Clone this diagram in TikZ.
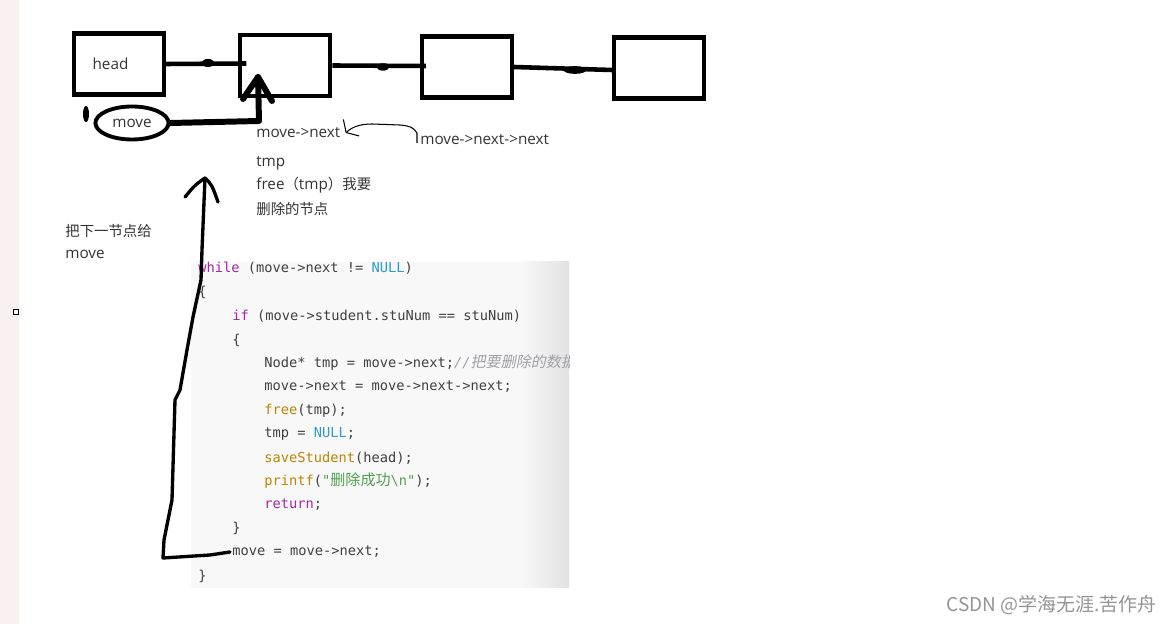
\documentclass[tikz,border=0pt]{standalone}
\usepackage{fontspec}
\setmainfont{Open Sans}[Scale=1.06]
\setmonofont{DejaVu Sans Mono}
\newfontfamily\cjk{Noto Sans CJK SC}
\newfontfamily\cjkcode{Noto Sans CJK SC}[Scale=1.1]
\newfontfamily\cjkslant{Noto Sans CJK SC}[Scale=1.1,FakeSlant=0.2]
\usetikzlibrary{positioning, shapes.geometric, arrows.meta}

\definecolor{sidebar}{HTML}{F8F1EF}
\definecolor{codebg}{HTML}{F8F8F8}
\definecolor{codeedge}{HTML}{E2E2E2}
\definecolor{codetext}{HTML}{404040}
\definecolor{kwpurple}{HTML}{A626A4}
\definecolor{nullblue}{HTML}{2E9AD2}
\definecolor{fnorange}{HTML}{C18401}
\definecolor{strgreen}{HTML}{50A14F}
\definecolor{cmtgray}{HTML}{A0A1A7}
\definecolor{notegray}{HTML}{333333}

\newcommand{\kwd}[1]{\textcolor{kwpurple}{#1}}
\newcommand{\nul}[1]{\textcolor{nullblue}{#1}}
\newcommand{\fnc}[1]{\textcolor{fnorange}{#1}}
\newcommand{\strg}[1]{\textcolor{strgreen}{#1}}
\newcommand{\cmt}[1]{\textcolor{cmtgray}{\itshape #1}}

\begin{document}
\begin{tikzpicture}[x=0.02cm,y=-0.02cm,on grid,
    listbox/.style={draw,line width=2.3pt,minimum width=1.8cm,minimum height=1.22cm},
    link/.style={line width=2.6pt},
    moveline/.style={line width=3.4pt,line join=round,line cap=round},
    handline/.style={line width=1.9pt,line join=round,line cap=round},
    thinarrow/.style={line width=0.6pt,-{Straight Barb[length=4pt,width=13pt]}},
    note/.style={anchor=west,inner sep=0pt,text=notegray,font=\fontsize{8.2}{10}\selectfont},
    code/.style={anchor=west,inner sep=0pt,text=codetext,font=\ttfamily\fontsize{7.8}{9}\selectfont}]
  \useasboundingbox (0,0) rectangle (1171,624);
  \fill[sidebar] (0,0) rectangle (19,624);
  \node[draw,fill=white,line width=0.9pt,minimum size=0.1cm,inner sep=0pt] (pin) at (16,312) {};

  % the list
  \node[listbox,label={[xshift=-0.17cm,font=\fontsize{8.2}{10}\selectfont,text=notegray]center:head}] (head) at (119,64) {};
  \node[listbox] (n1) [right=3.33cm of head,yshift=-0.03cm] {};
  \node[listbox] (n2) [right=3.63cm of n1,yshift=-0.03cm] {};
  \node[listbox] (n3) [right=3.84cm of n2,yshift=-0.02cm] {};
  \draw[link] (head.east) -- ([xshift=0.16cm,yshift=0.04cm]n1.west);
  \draw[link] (n1.east) -- ([xshift=0.12cm,yshift=0.02cm]n2.west);
  \draw[link] (n2.east) -- ([yshift=-0.04cm]n3.west);
  \fill (208,63) ellipse [x radius=3.6pt,y radius=2.3pt];
  \fill (383,67) ellipse [x radius=3.6pt,y radius=2.1pt];
  \fill (575,70) ellipse [x radius=6.5pt,y radius=2.2pt];

  % the move pointer
  \node[ellipse,draw,line width=2.2pt,minimum width=1.26cm,minimum height=0.66cm,
        font=\fontsize{8.2}{10}\selectfont,text=notegray] (move) at (132,123) {move};
  \fill (86,114) ellipse [x radius=1.7pt,y radius=4.6pt];
  \coordinate (mv-bend) at (259,121);
  \coordinate (mv-tip) at (258,77);
  \draw[moveline] (move.east) -- (mv-bend) -- (mv-tip);
  \draw[moveline] (243,99) -- (mv-tip) -- (272,101);

  % notes
  \node[note] (mnext) at (256,133) {move->next};
  \node[note] (nnext) at (420,140) {move->next->next};
  \node[note] (tmp) at (256,163) {tmp};
  \node[note] (freenote) at (256,185) {free{\cjk （}tmp{\cjk ）我要}};
  \node[note] (delnote) at (256,209) {\cjk 删除的节点};
  \node[note] (give) at (65,231) {\cjk 把下一节点给};
  \node[note] (givemove) at (65,254) {move};
  \draw[thinarrow] ([xshift=-0.06cm,yshift=-0.06cm]nnext.west) -- (417,133)
    .. controls (413,127) and (410,126) .. (400,125) -- (372,124)
    .. controls (360,124) and (352,127) .. ([xshift=0.1cm]mnext.east);

  % code
  \fill[codebg] (191,262) rectangle (569,588);
  \shade[left color=codebg,right color=codeedge] (522,262) rectangle (569,588);
  \begin{scope}
    \clip (191,262) rectangle (569,588);
    \node[code] (c1) at (198,268) {\kwd{while} (move->next != \nul{NULL})};
    \node[code] (c2) at (198,292) {\{};
    \node[code] (c3) at (232,316) {\kwd{if} (move->student.stuNum == stuNum)};
    \node[code] (c4) at (232,340) {\{};
    \node[code] (c5) at (264,363) {Node* tmp = move->next;\cmt{//{\cjkslant 把要删除的数据}}};
    \node[code] (c6) at (264,387) {move->next = move->next->next;};
    \node[code] (c7) at (264,411) {\fnc{free}(tmp);};
    \node[code] (c8) at (264,434) {tmp = \nul{NULL};};
    \node[code] (c9) at (264,458) {\fnc{saveStudent}(head);};
    \node[code] (c10) at (264,481) {\fnc{printf}(\strg{"{\cjkcode 删除成功}\textbackslash n"});};
    \node[code] (c11) at (264,505) {\kwd{return};};
    \node[code] (c12) at (232,528) {\}};
    \node[code] (c13) at (232,552) {move = move->next;};
    \node[code] (c14) at (198,576) {\}};
  \end{scope}

  % back to the top of the loop
  \coordinate (loop-tip) at (205,178);
  \draw[handline] ([xshift=-0.04cm]c13.west) -- (210,555) -- (163,558) -- (164,540)
    -- (172,500) -- (175,400) -- (180,390) -- (187,350) -- (193,317)
    -- (201,280) -- (202,250) -- (loop-tip);
  \draw[handline] (185,197) .. controls (195,185) .. (loop-tip) .. controls (212,185) .. (218,202);

  \node[anchor=east,inner sep=0pt,text=black!42,font=\cjk\fontsize{10.8}{13}\selectfont] (mark) at (1157,605) {CSDN @学海无涯.苦作舟};
\end{tikzpicture}
\end{document}
